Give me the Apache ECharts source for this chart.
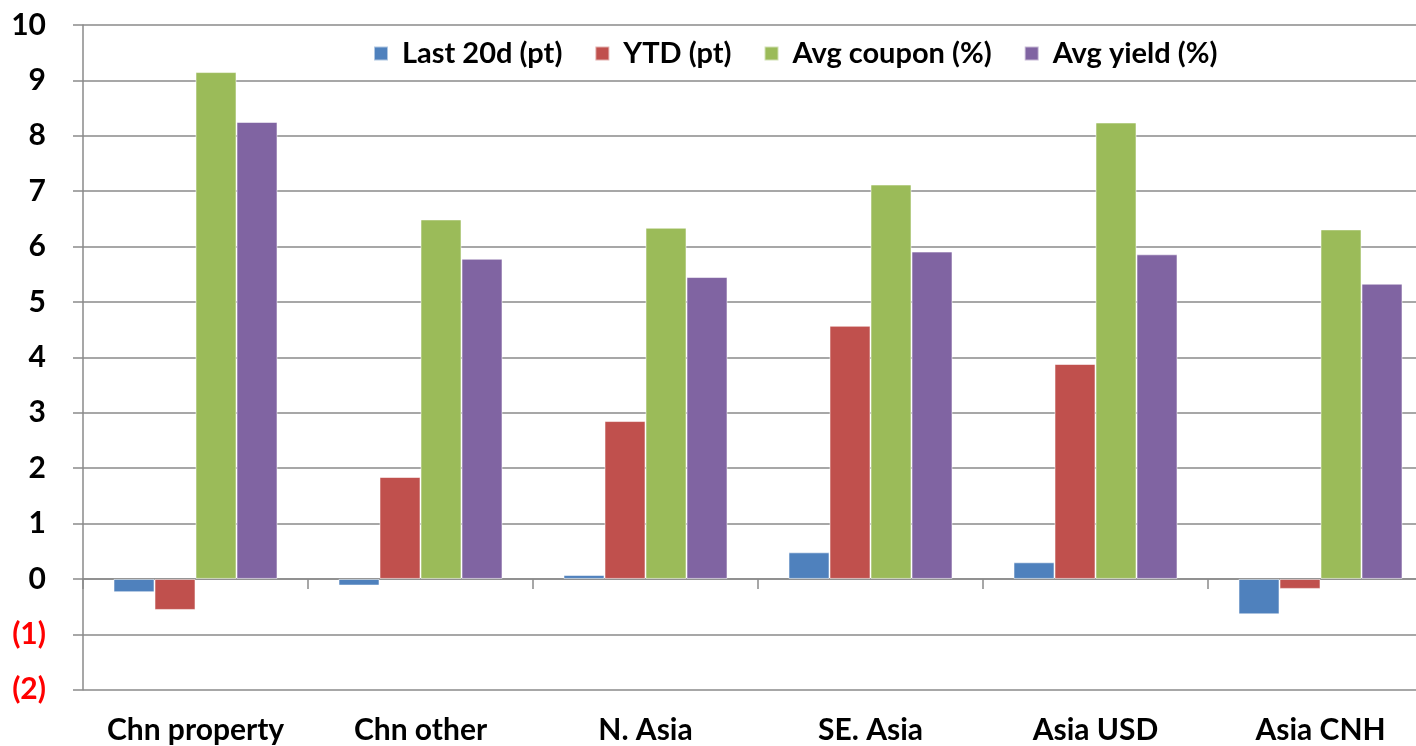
<!DOCTYPE html>
<html>
<head>
<meta charset="utf-8">
<script src="https://cdn.jsdelivr.net/npm/echarts@6/dist/echarts.min.js"></script>
<style>
  html, body { margin: 0; padding: 0; background: #ffffff; }
  #chart { width: 1416px; height: 746px; }
</style>
</head>
<body>
<div id="chart"></div>
<script>
// Market segments on the category axis
const categories = ['Chn property', 'Chn other', 'N. Asia', 'SE. Asia', 'Asia USD', 'Asia CNH'];

// Series values per segment
const last20d   = [-0.24, -0.12, 0.07, 0.48, 0.30, -0.64];
const ytd       = [-0.56, 1.84, 2.85, 4.57, 3.88, -0.18];
const avgCoupon = [9.15, 6.49, 6.34, 7.12, 8.24, 6.31];
const avgYield  = [8.25, 5.78, 5.45, 5.91, 5.86, 5.33];

// Value-axis tick labels, from -2 up to 10
const yTickValues = [-2, -1, 0, 1, 2, 3, 4, 5, 6, 7, 8, 9, 10];
const yTickLabels = ['(2)', '(1)', '0', '1', '2', '3', '4', '5', '6', '7', '8', '9', '10'];

const FONT = 'Lato';
const GRID_GRAY = '#8a8a8a';

const chart = echarts.init(document.getElementById('chart'), null, { renderer: 'canvas' });

function barSeries(name, data, color) {
  return {
    name: name,
    type: 'bar',
    data: data,
    barWidth: 41,
    barGap: '0%',
    itemStyle: { color: color, borderColor: 'rgba(255,255,255,0.55)', borderWidth: 1 },
    emphasis: { disabled: true }
  };
}

chart.setOption({
  animation: false,
  backgroundColor: '#ffffff',
  textStyle: { fontFamily: FONT },
  // the last category runs past the right edge of the canvas
  grid: { left: 83, top: 25, right: -17, bottom: 56.3, containLabel: false, outerBoundsMode: 'none' },
  legend: {
    left: 368,
    top: 34,
    itemWidth: 14,
    itemHeight: 14,
    itemGap: 32,
    icon: 'rect',
    textStyle: { fontFamily: FONT, fontWeight: 'bold', fontSize: 29, color: '#000', padding: [0, 0, 0, 9] },
    data: ['Last 20d (pt)', 'YTD (pt)', 'Avg coupon (%)', 'Avg yield (%)']
  },
  xAxis: [
    {
      // category labels along the bottom of the plot
      type: 'category',
      data: categories,
      position: 'bottom',
      axisLine: { show: false, onZero: false },
      axisTick: { show: false },
      axisLabel: {
        margin: 26,
        fontFamily: FONT, fontWeight: 'bold', fontSize: 30, color: '#000',
        interval: 0
      },
      splitLine: { show: false }
    },
    {
      // zero baseline with category separators
      type: 'category',
      data: categories,
      position: 'bottom',
      axisLine: { show: true, onZero: true, lineStyle: { color: GRID_GRAY, width: 1.5 } },
      axisTick: { show: true, length: 10, lineStyle: { color: GRID_GRAY, width: 1.5 } },
      axisLabel: { show: false },
      splitLine: { show: false }
    }
  ],
  yAxis: {
    type: 'value',
    min: -2,
    max: 10,
    interval: 1,
    axisLine: { show: true, lineStyle: { color: GRID_GRAY, width: 1.5 } },
    axisTick: { show: true, length: 10, lineStyle: { color: GRID_GRAY, width: 1.5 } },
    splitLine: { show: true, lineStyle: { color: GRID_GRAY, width: 1.5 } },
    axisLabel: {
      margin: 37,
      formatter: function (v) {
        const i = yTickValues.indexOf(v);
        const txt = i >= 0 ? yTickLabels[i] : String(v);
        return v < 0 ? '{neg|' + txt + '}' : '{pos|' + txt + '}';
      },
      rich: {
        pos: { fontFamily: FONT, fontWeight: 'bold', fontSize: 30, color: '#000' },
        neg: { fontFamily: FONT, fontWeight: 'bold', fontSize: 30, color: '#ff0000' }
      }
    }
  },
  series: [
    barSeries('Last 20d (pt)', last20d, '#4f81bd'),
    barSeries('YTD (pt)', ytd, '#c0504d'),
    barSeries('Avg coupon (%)', avgCoupon, '#9bbb59'),
    barSeries('Avg yield (%)', avgYield, '#8064a2')
  ]
});
</script>
</body>
</html>
